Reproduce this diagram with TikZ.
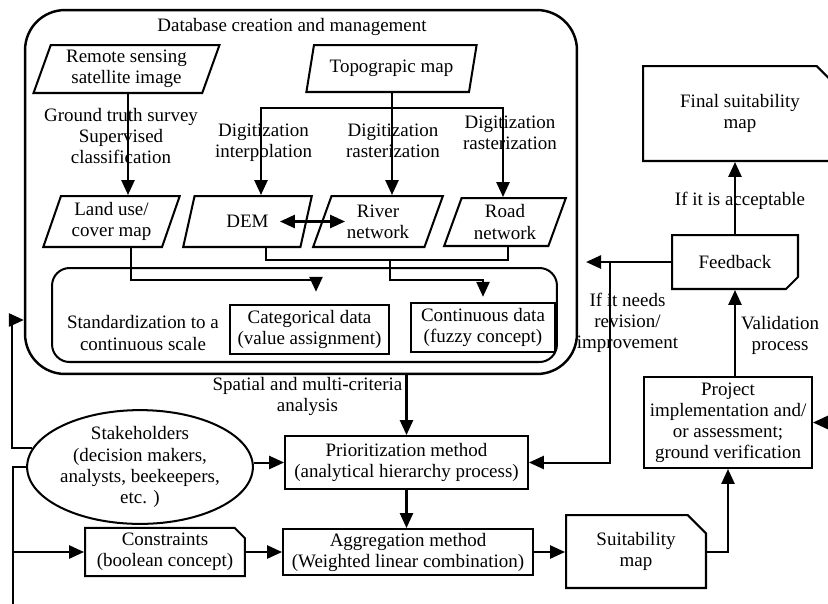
\documentclass[tikz,border=0pt]{standalone}
\usepackage{fontspec}
\setmainfont{Liberation Serif}
\usetikzlibrary{shapes.geometric,shapes.misc,arrows.meta}

\begin{document}
\begin{tikzpicture}[x=0.02cm,y=-0.02cm,line width=1.15pt,font=\fontsize{10.8}{12}\selectfont]
	\tikzstyle{every node} = [align=center,inner sep=0pt]
	\tikzstyle{arr} = [-{Triangle[length=8.5pt,width=7.5pt]}]
	\tikzstyle{dblarr} = [{Triangle[length=8.5pt,width=7.5pt]}-{Triangle[length=8.5pt,width=7.5pt]}]
	\tikzstyle{datapar} = [draw,trapezium,trapezium left angle=70,trapezium right angle=110,trapezium stretches=true]
	\tikzstyle{procbox} = [draw,rectangle]
	\tikzstyle{cutbox} = [draw,chamfered rectangle]
	\useasboundingbox (0,0) rectangle (828,603);

	% database creation block
	\node (db) [draw,line width=1.4pt,rounded corners=0.8cm,minimum width=11.04cm,minimum height=7.28cm] at (301,192) {};
	\node (dbtitle) at (292,27) {Database creation and management};
	\node (rs) [datapar,minimum width=3.74cm,minimum height=0.96cm] at (126.5,69) {Remote sensing\\satellite image};
	\node (topo) [datapar,minimum width=3.42cm,minimum height=0.94cm] at (391.5,68.5) {Topograpic map};
	\node (lu) [datapar,minimum width=2.74cm,minimum height=1.02cm] at (111.5,221.5) {Land use/\\cover map};
	\node (dem) [datapar,minimum width=2.58cm,minimum height=1.02cm] at (247.5,221.5) {DEM};
	\node (river) [datapar,minimum width=2.60cm,minimum height=1.02cm] at (378,221.5) {River\\network};
	\node (road) [datapar,minimum width=2.44cm,minimum height=0.96cm] at (505,222) {Road\\network};
	\node (gts) at (121,136) {Ground truth survey\\Supervised\\classification};
	\node (digi1) at (263.5,143) {Digitization\\interpolation};
	\node (digi2) at (393,141) {Digitization\\rasterization};
	\node (digi3) at (510,133) {Digitization\\rasterization};

	% standardization
	\node (std) [draw,rounded corners=0.35cm,minimum width=10.1cm,minimum height=1.88cm] at (304.5,315) {};
	\node (stdlbl) at (143,333) {Standardization to a\\continuous scale};
	\node (cat) [procbox,minimum width=3.18cm,minimum height=0.98cm] at (309.5,329.5) {Categorical data\\(value assignment)};
	\node (cont) [procbox,minimum width=2.88cm,minimum height=0.98cm] at (483,327.5) {Continuous data\\(fuzzy concept)};

	% analysis
	\node (spatial) at (307.5,396) {Spatial and multi-criteria\\analysis};
	\node (sh) [draw,ellipse,minimum width=4.28cm,minimum height=2.2cm] at (140,467) {Stakeholders\\(decision makers,\\analysts, beekeepers,\\etc. )};
	\node (prio) [procbox,minimum width=4.86cm,minimum height=1.06cm] at (406.5,462.5) {Prioritization method\\(analytical hierarchy process)};
	\node (cons) [cutbox,chamfered rectangle corners=north east,chamfered rectangle xsep=0.1cm,minimum width=3.2cm,minimum height=0.96cm] at (165,552) {Constraints\\(boolean concept)};
	\node (agg) [procbox,minimum width=5cm,minimum height=0.92cm] at (408,552) {Aggregation method\\(Weighted linear combination)};
	\node (suit) [cutbox,chamfered rectangle corners=north east,chamfered rectangle xsep=0.26cm,minimum width=2.8cm,minimum height=1.46cm] at (636,551.5) {Suitability\\map};

	% validation loop
	\node (proj) [procbox,minimum width=3.36cm,minimum height=1.82cm] at (728,422.5) {Project\\implementation and/\\or assessment;\\ground verification};
	\node (fb) [cutbox,chamfered rectangle corners=south east,chamfered rectangle xsep=0.2cm,minimum width=2.52cm,minimum height=1.08cm] at (735,262) {Feedback};
	\node (final) [cutbox,chamfered rectangle corners=north east,chamfered rectangle xsep=0.3cm,minimum width=3.88cm,minimum height=1.9cm] at (740,113.5) {Final suitability\\map};
	\node (revise) at (627.5,323) {If it needs\\revision/\\improvement};
	\node (valid) at (780,335.5) {Validation\\process};
	\node (accept) at (740,201) {If it is acceptable};

	\coordinate (tsplit) at (392,108);
	\coordinate (lback) at (12,320);
	\coordinate (lbot) at (13,610);
	\coordinate (rin) at (835,422.5);

	\draw[arr] (128,0 |- rs.south) -- (128,0 |- lu.north);
	\draw[arr] (tsplit |- topo.south) -- (tsplit |- river.north);
	\draw[arr] (tsplit) -| (261,0 |- dem.north);
	\draw[arr] (tsplit) -| (503,0 |- road.north);
	\draw[dblarr] ([xshift=0.65cm]dem.center) -- ([xshift=-0.66cm]river.center);
	\draw[arr,shorten >=7pt] (131,0 |- lu.south) -- (131,280) -| (316,0 |- cat.north);
	\draw (266,0 |- dem.south) |- (508,260) -- (508,0 |- road.south);
	\draw[arr,shorten >=3pt] (390,260) -- (390,280) -| (cont.north);
	\draw[arr] (db.south -| prio.north) -- (prio.north);
	\draw[arr] (sh.east |- prio.west) -- (prio.west);
	\draw[arr] (prio.south) -- (prio.south |- agg.north);
	\draw[arr] (cons.east) -- (cons.east -| agg.west);
	\draw[arr] (agg.east) -- (agg.east -| suit.west);
	\draw[arr] (suit.east) -| (proj.south);
	\draw[arr] (rin) -- (proj.east);
	\draw[arr] (fb.south |- proj.north) -- (fb.south);
	\draw[arr] (fb.north) -- (fb.north |- final.south);
	\draw[arr,shorten >=4.5pt] (fb.west) -- (fb.west -| db.east);
	\draw[arr] (610,0 |- fb.west) |- (prio.east);
	\draw[arr] (sh.170) -| (lback) -- (lback -| db.west);
	\draw (sh.west) -| (lbot);
	\draw[arr] (lbot |- cons.west) -- (cons.west);
\end{tikzpicture}
\end{document}
